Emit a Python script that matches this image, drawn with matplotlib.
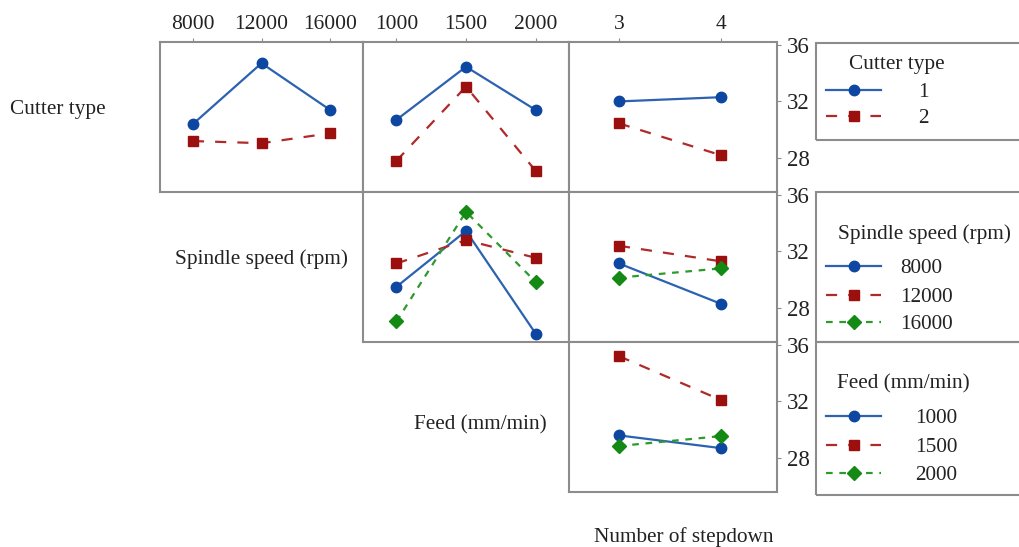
import matplotlib
matplotlib.use("Agg")
import matplotlib.pyplot as plt
from matplotlib.lines import Line2D
from matplotlib.patches import Rectangle

plt.rcParams['font.family'] = ['Liberation Serif', 'DejaVu Serif']

# factor levels
speed_levels = ['8000', '12000', '16000']
feed_levels = ['1000', '1500', '2000']
step_levels = ['3', '4']
cutter_levels = ['1', '2']

# mean response, cutter type vs other factors
cutter_by_speed = {'1': [30.4, 34.7, 31.4], '2': [29.2, 29.05, 29.75]}
cutter_by_feed = {'1': [30.7, 34.45, 31.4], '2': [27.8, 33.05, 27.1]}
cutter_by_step = {'1': [32.0, 32.3], '2': [30.45, 28.2]}
# spindle speed vs feed / stepdown
speed_by_feed = {'8000': [29.5, 33.45, 26.2], '12000': [31.15, 32.8, 31.55],
                 '16000': [27.05, 34.8, 29.85]}
speed_by_step = {'8000': [31.15, 28.3], '12000': [32.4, 31.3], '16000': [30.15, 30.8]}
# feed vs stepdown
feed_by_step = {'1000': [29.6, 28.7], '1500': [35.2, 32.1], '2000': [28.85, 29.55]}

y_ticks = [28, 32, 36]

styles = [
    dict(color='#2c62b0', ls='-', marker='o', mfc='#0d47a1', mec='#0d47a1', ms=7.5),
    dict(color='#b02a2a', ls=(0, (5, 5)), marker='s', mfc='#9b0f0f', mec='#9b0f0f', ms=7),
    dict(color='#2e9a2e', ls=(0, (3, 3)), marker='D', mfc='#138a13', mec='#138a13', ms=7),
]
frame_col = '#8c8c8c'
txt_col = '#222222'
label_fs = 15.3

fig = plt.figure(figsize=(10.19, 5.47), dpi=100)
W, H = 1019, 547


def panel(px_left, px_top, px_w, px_h):
    ax = fig.add_axes([px_left / W, 1 - (px_top + px_h) / H, px_w / W, px_h / H])
    for s in ax.spines.values():
        s.set_color(frame_col)
        s.set_linewidth(1.5)
    ax.set_ylim(25.6, 36.2)
    ax.set_xticks([])
    ax.set_yticks([])
    return ax


def draw(ax, data, n):
    for i, (k, vals) in enumerate(data.items()):
        st = styles[i]
        ax.plot(range(n), vals, lw=1.6, color=st['color'], ls=st['ls'], marker=st['marker'],
                mfc=st['mfc'], mec=st['mec'], ms=st['ms'])
    if n == 3:
        ax.set_xlim(-0.48, 2.48)
    else:
        ax.set_xlim(-0.49, 1.55)


cols = [(160, 203), (363, 206), (569, 208)]
rows = [42, 192, 342]
ph = 150

panels = [
    (0, 0, cutter_by_speed, speed_levels),
    (0, 1, cutter_by_feed, feed_levels),
    (0, 2, cutter_by_step, step_levels),
    (1, 1, speed_by_feed, feed_levels),
    (1, 2, speed_by_step, step_levels),
    (2, 2, feed_by_step, step_levels),
]
for r, c, data, levels in panels:
    ax = panel(cols[c][0], rows[r], cols[c][1], ph)
    draw(ax, data, len(levels))
    if r == 0:
        ax.xaxis.tick_top()
        ax.set_xticks(range(len(levels)))
        ax.set_xticklabels(levels, fontsize=15.5, color=txt_col)
        ax.tick_params(axis='x', length=3, width=0.8, color=frame_col, pad=3)
    if c == 2:
        ax.yaxis.tick_right()
        ax.set_yticks(y_ticks)
        ax.set_yticklabels([str(t) for t in y_ticks], fontsize=16.5, color=txt_col)
        ax.tick_params(axis='y', length=3, width=0.8, color=frame_col, pad=4)

# factor names on the diagonal
fig.text(10 / W, 1 - 107 / H, 'Cutter type', fontsize=label_fs, ha='left', va='center_baseline', color=txt_col)
fig.text(261 / W, 1 - 257 / H, 'Spindle speed (rpm)', fontsize=label_fs, ha='center', va='center_baseline', color=txt_col)
fig.text(480 / W, 1 - 422 / H, 'Feed (mm/min)', fontsize=label_fs, ha='center', va='center_baseline', color=txt_col)
fig.text(684 / W, 1 - 535 / H, 'Number of stepdown', fontsize=label_fs, ha='center', va='center_baseline', color=txt_col)

# legend boxes: title, levels, box top, box bottom, title x, title y, entry ys, label x
legends = [
    ('Cutter type', cutter_levels, 43, 140, 897, 62, [90, 116], 918),
    ('Spindle speed (rpm)', speed_levels, 192, 342, 924, 232, [266, 295, 322], 900),
    ('Feed (mm/min)', feed_levels, 342, 495, 903, 381, [416, 445, 473], 915),
]
for title, levels, top, bot, tx, ty, ys, lx in legends:
    fig.add_artist(Rectangle((816 / W, 1 - bot / H), 220 / W, (bot - top) / H,
                             transform=fig.transFigure, fill=False, ec=frame_col, lw=1.5))
    fig.text(tx / W, 1 - ty / H, title, fontsize=label_fs, ha='center', va='center_baseline', color=txt_col)
    for i, (lab, y) in enumerate(zip(levels, ys)):
        st = styles[i]
        yf = 1 - y / H
        fig.add_artist(Line2D([826 / W, 881 / W], [yf, yf], transform=fig.transFigure,
                              lw=1.6, color=st['color'], ls=st['ls']))
        fig.add_artist(Line2D([853.5 / W], [yf], transform=fig.transFigure, marker=st['marker'],
                              mfc=st['mfc'], mec=st['mec'], ms=st['ms'], ls='none'))
        fig.text(lx / W, yf, lab, fontsize=15.3, ha='left', va='center_baseline', color=txt_col)

fig.savefig('out.png', dpi=100)
